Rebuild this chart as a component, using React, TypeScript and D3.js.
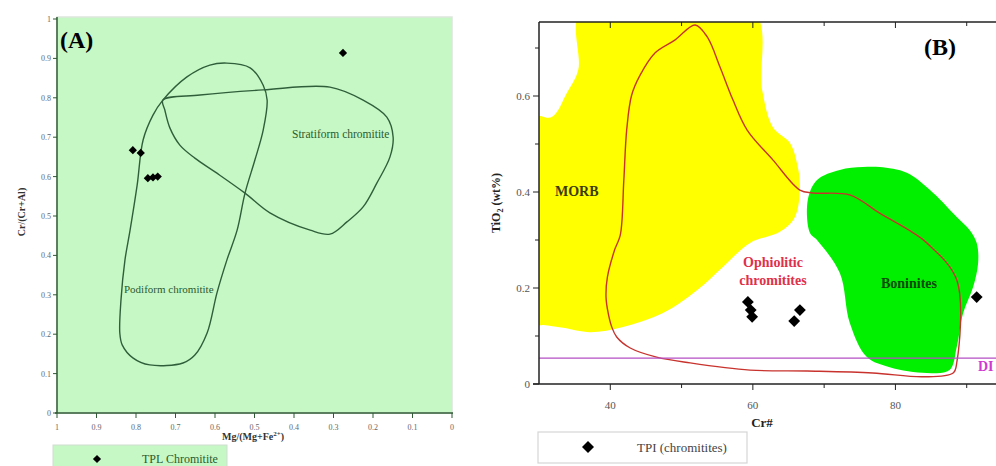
import React from 'react'
import * as d3 from 'd3'

// ---- panel A data: Mg/(Mg+Fe2+) vs Cr/(Cr+Al)
const aTicks = [1, 0.9, 0.8, 0.7, 0.6, 0.5, 0.4, 0.3, 0.2, 0.1, 0]
const aPoints: [number, number][] = [
  [0.808, 0.667], [0.788, 0.66], [0.77, 0.596], [0.757, 0.598], [0.745, 0.6], [0.276, 0.914],
]
const podiform: [number, number][] = [
  [0.841, 0.203], [0.838, 0.287], [0.828, 0.388], [0.815, 0.464], [0.797, 0.579], [0.782, 0.693],
  [0.757, 0.756], [0.732, 0.794], [0.671, 0.853], [0.613, 0.883], [0.57, 0.888], [0.511, 0.876],
  [0.478, 0.832], [0.468, 0.794], [0.478, 0.718], [0.499, 0.642], [0.524, 0.558], [0.544, 0.464],
  [0.57, 0.388], [0.595, 0.305], [0.62, 0.203], [0.651, 0.147], [0.681, 0.127], [0.765, 0.122],
  [0.808, 0.14], [0.835, 0.173],
]
const stratiform: [number, number][] = [
  [0.732, 0.794], [0.638, 0.807], [0.478, 0.82], [0.309, 0.827], [0.225, 0.794], [0.165, 0.751],
  [0.149, 0.7], [0.157, 0.65], [0.19, 0.584], [0.225, 0.523], [0.266, 0.485], [0.309, 0.454],
  [0.359, 0.464], [0.461, 0.508], [0.524, 0.558], [0.6, 0.612], [0.651, 0.647], [0.689, 0.68],
  [0.714, 0.723], [0.727, 0.769],
]

// ---- panel B data: Cr# vs TiO2
const bMajor = [40, 60, 80]
const bMinor = [50, 70, 90]
const bYMajor = [0, 0.2, 0.4, 0.6]
const bYMinor = [0.1, 0.3, 0.5, 0.7]
const bPoints: [number, number][] = [
  [59.3, 0.171], [59.7, 0.154], [59.9, 0.14], [66.6, 0.154], [65.8, 0.131], [91.4, 0.181],
]
const morb: [number, number][] = [
  [29, 0.556], [31.8, 0.556], [33.9, 0.606], [35.5, 0.654], [36.0, 0.78], [60.0, 0.78],
  [61.3, 0.6125], [62.8, 0.535], [65.2, 0.502], [66.3, 0.452], [66.6, 0.41], [65.9, 0.348],
  [63.8, 0.317], [59.6, 0.294], [55.8, 0.244], [52.2, 0.196], [47.4, 0.148], [41.8, 0.119],
  [37.2, 0.108], [33.4, 0.117], [30.6, 0.123], [29, 0.123],
]
const boninites: [number, number][] = [
  [75.4, 0.452], [72.2, 0.446], [69.0, 0.425], [67.7, 0.383], [68.0, 0.315], [69.0, 0.3],
  [72.2, 0.231], [73.6, 0.127], [76.0, 0.056], [79.2, 0.035], [84.4, 0.023], [87.6, 0.029],
  [88.6, 0.077], [89.5, 0.148], [90.9, 0.202], [91.6, 0.252], [91.4, 0.294], [90.4, 0.321],
  [88.6, 0.348], [85.3, 0.398], [81.6, 0.44], [77.8, 0.452],
]
const ophiolitic: [number, number][] = [
  [51.9, 0.748], [53.6, 0.723], [55.4, 0.66], [57.2, 0.592], [59.2, 0.529], [62.8, 0.467],
  [66.6, 0.404], [68.4, 0.398], [73.6, 0.394], [77.8, 0.356], [82.5, 0.315], [84.4, 0.294],
  [88.6, 0.217], [88.6, 0.044], [88.1, 0.023], [83.9, 0.015], [76.8, 0.023], [67.6, 0.027],
  [59.6, 0.029], [51.2, 0.044], [46.5, 0.056], [42.8, 0.075], [40.9, 0.098], [40.2, 0.119],
  [39.7, 0.148], [39.4, 0.181], [39.6, 0.223], [40.6, 0.279], [41.4, 0.31], [41.9, 0.425],
  [42.3, 0.529], [43.0, 0.602], [44.2, 0.644], [46.3, 0.69], [49.1, 0.717],
]
const diLine = 0.054

const font = '"Liberation Serif", "Times New Roman", serif'

// diamond = square turned 45 degrees
const diamondAt = (s: number) => d3.symbol(d3.symbolSquare, s)() || ''

function PanelA() {
  const x = d3.scaleLinear().domain([1, 0]).range([57, 452])
  const y = d3.scaleLinear().domain([0, 1]).range([413, 19])
  const line = d3.line<[number, number]>().x(d => x(d[0])).y(d => y(d[1])).curve(d3.curveCatmullRomClosed)
  const diamond = diamondAt(34)
  const axisCol = '#2f5a35'
  const outline = '#2f5f3a'
  return (
    <g fontFamily={font}>
      <rect x={57} y={17} width={395} height={396} fill="#c6f8c6" stroke="#dde6dd" strokeWidth={1.5} />
      <path d={line(podiform) || ''} fill="none" stroke={outline} strokeWidth={1.4} />
      <path d={line(stratiform) || ''} fill="none" stroke={outline} strokeWidth={1.4} />
      <text x={124} y={293} fontSize={11} fill="#2d5a2d">Podiform chromitite</text>
      <text x={292} y={138} fontSize={11.5} fill="#2d5a2d">Stratiform chromitite</text>
      {aPoints.map((p, i) => (
        <path key={i} d={diamond} transform={`translate(${x(p[0])},${y(p[1])}) rotate(45)`} fill="#000" />
      ))}
      <line x1={57} x2={57} y1={17} y2={413} stroke={axisCol} strokeWidth={1.5} />
      <line x1={55} x2={453} y1={413} y2={413} stroke={axisCol} strokeWidth={1.5} />
      {aTicks.map(t => (
        <g key={'y' + t}>
          <line x1={53} x2={57} y1={y(t)} y2={y(t)} stroke={axisCol} />
          <text x={51} y={y(t) + 3} fontSize={8} textAnchor="end" fill="#666">{t}</text>
        </g>
      ))}
      {aTicks.map(t => (
        <g key={'x' + t}>
          <line x1={x(t)} x2={x(t)} y1={413} y2={418} stroke={axisCol} />
          <text x={x(t)} y={430} fontSize={8} textAnchor="middle" fill="#666">{t}</text>
        </g>
      ))}
      <text transform="translate(25,212) rotate(-90)" fontSize={10} fontWeight="bold" textAnchor="middle" fill="#333">Cr/(Cr+Al)</text>
      <text x={253} y={440} fontSize={10} fontWeight="bold" textAnchor="middle" fill="#333">
        Mg/(Mg+Fe<tspan dy={-4} fontSize={7}>2+</tspan><tspan dy={4}>)</tspan>
      </text>
      <text x={60} y={48} fontSize={24} fontWeight="bold" fill="#000">(A)</text>
      <rect x={53} y={445} width={174} height={24} fill="#c6f8c6" stroke="#d0dcd0" />
      <path d={diamond} transform="translate(97,459) rotate(45)" fill="#000" />
      <text x={142} y={463} fontSize={12} fill="#2d5a2d">TPL Chromitite</text>
    </g>
  )
}

function PanelB() {
  const x = d3.scaleLinear().domain([30, 100]).range([539, 1038])
  const y = d3.scaleLinear().domain([0, 0.75]).range([384, 24])
  const smooth = d3.line<[number, number]>().x(d => x(d[0])).y(d => y(d[1])).curve(d3.curveCatmullRomClosed)
  const diamond = diamondAt(70)
  const legendDiamond = diamondAt(72)
  return (
    <g fontFamily={font}>
      <defs>
        <clipPath id="clipB">
          <rect x={539} y={22} width={460} height={362} />
        </clipPath>
      </defs>
      <g clipPath="url(#clipB)">
        <path d={smooth(morb) || ''} fill="#ffff00" />
        <path d={smooth(boninites) || ''} fill="#00f000" />
        <path d={smooth(ophiolitic) || ''} fill="none" stroke="#c8332e" strokeWidth={1.4} />
        <line x1={539} x2={996} y1={y(diLine)} y2={y(diLine)} stroke="#b44fc4" strokeWidth={1.2} />
      </g>
      <text x={555} y={196} fontSize={14} fontWeight="bold" fill="#3a3a10">MORB</text>
      <text x={773} y={267} fontSize={14} fontWeight="bold" fill="#e0304a" textAnchor="middle">Ophiolitic</text>
      <text x={773} y={285} fontSize={14} fontWeight="bold" fill="#e0304a" textAnchor="middle">chromitites</text>
      <text x={881} y={288} fontSize={14} fontWeight="bold" fill="#0b4a0b">Boninites</text>
      <text x={978} y={371} fontSize={14} fontWeight="bold" fill="#d03ad0">DI</text>
      {bPoints.map((p, i) => (
        <path key={i} d={diamond} transform={`translate(${x(p[0])},${y(p[1])}) rotate(45)`} fill="#000" />
      ))}
      {/* frame */}
      <line x1={539} x2={539} y1={22} y2={384} stroke="#222" strokeWidth={1.5} />
      <line x1={533} x2={996} y1={384} y2={384} stroke="#222" strokeWidth={1.5} />
      <line x1={539} x2={996} y1={22} y2={22} stroke="#222" strokeWidth={1.5} />
      {bYMajor.map(t => (
        <g key={'ym' + t}>
          <line x1={533} x2={539} y1={y(t)} y2={y(t)} stroke="#222" />
          <text x={530} y={y(t) + 4} fontSize={11} textAnchor="end" fill="#555">{t}</text>
        </g>
      ))}
      {bYMinor.map(t => (
        <line key={'yn' + t} x1={535} x2={539} y1={y(t)} y2={y(t)} stroke="#222" />
      ))}
      {bMajor.concat(bMinor).map(t => (
        <g key={'xt' + t}>
          <line x1={x(t)} x2={x(t)} y1={384} y2={bMajor.includes(t) ? 390 : 388} stroke="#222" />
          <line x1={x(t)} x2={x(t)} y1={22} y2={bMajor.includes(t) ? 28 : 26} stroke="#222" />
        </g>
      ))}
      {bMajor.map(t => (
        <text key={'xl' + t} x={x(t)} y={409} fontSize={11} textAnchor="middle" fill="#555">{t}</text>
      ))}
      <text transform="translate(500,203) rotate(-90)" fontSize={12} fontWeight="bold" textAnchor="middle" fill="#222">
        TiO<tspan dy={3} fontSize={8}>2</tspan><tspan dy={-3}> (wt%)</tspan>
      </text>
      <text x={762} y={427} fontSize={13} fontWeight="bold" textAnchor="middle" fill="#222">Cr#</text>
      <text x={924} y={55} fontSize={24} fontWeight="bold" fill="#000">(B)</text>
      <rect x={538} y={432} width={209} height={31} fill="#fff" stroke="#d6d6d6" strokeWidth={1.2} />
      <path d={legendDiamond} transform="translate(588,447) rotate(45)" fill="#000" />
      <text x={637} y={452} fontSize={13} fill="#444">TPI (chromitites)</text>
    </g>
  )
}

export default function App() {
  return (
    <svg width={996} height={466} style={{ position: 'absolute', left: 0, top: 0, background: '#fff' }}>
      <PanelA />
      <PanelB />
    </svg>
  )
}
